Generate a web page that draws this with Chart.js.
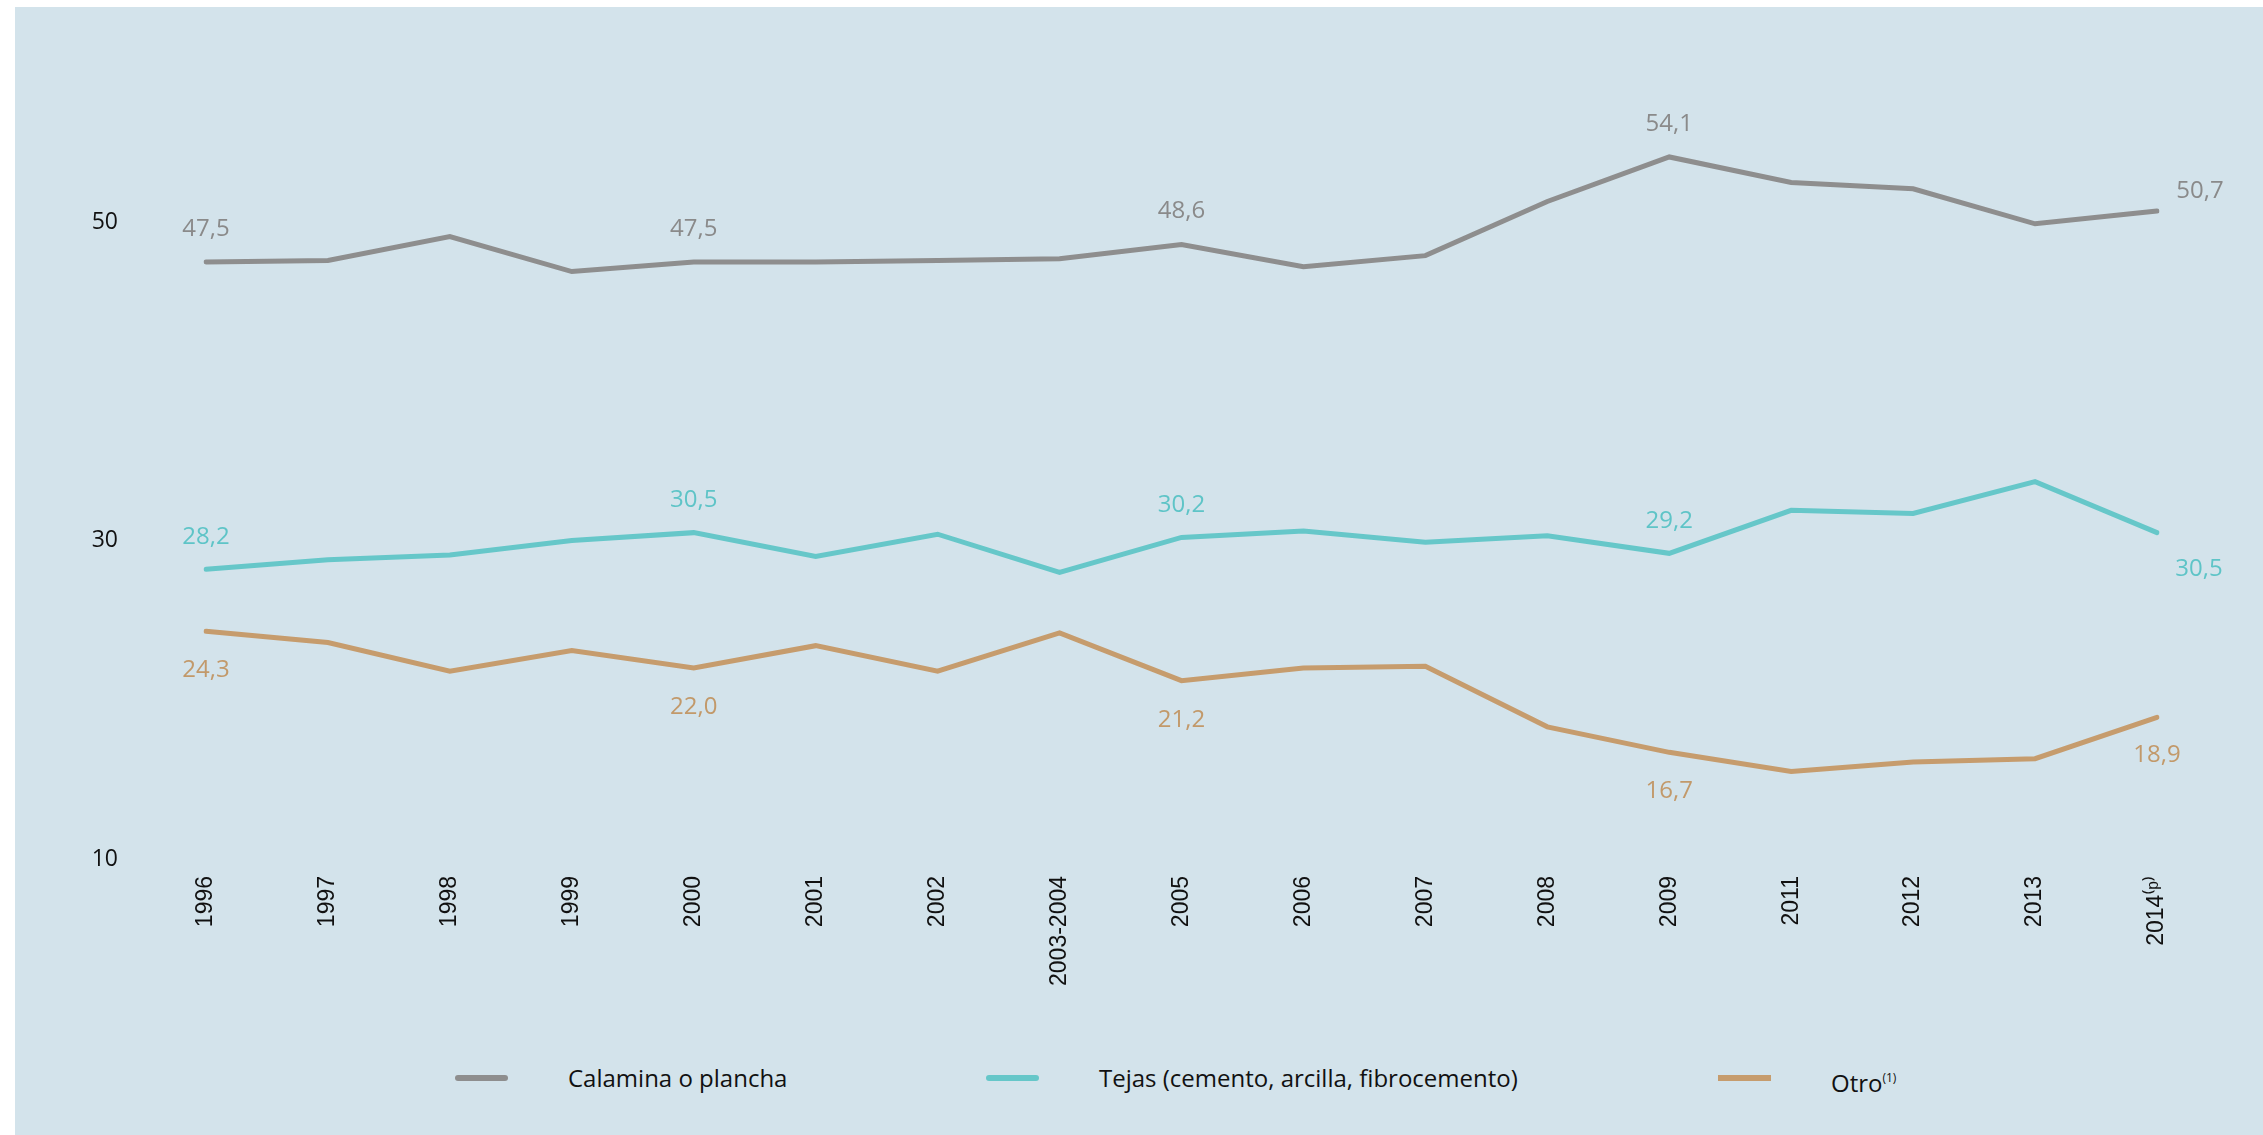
<!DOCTYPE html>
<html>
<head>
<meta charset="utf-8">
<script src="https://cdn.jsdelivr.net/npm/chart.js@4.4.1/dist/chart.umd.min.js"></script>
<style>
  body { margin: 0; width: 2263px; height: 1135px; overflow: hidden; position: relative; background: #fff; font-family: "Open Sans", sans-serif; }
  #panel { position: absolute; left: 15px; top: 7px; right: 0; bottom: 0; background: #d3e3eb; }
  #wrap { position: absolute; left: 0; top: 0; width: 2263px; height: 1010px; }
  .swatch { position: absolute; top: 1075px; width: 53px; height: 6px; border-radius: 3px; }
  .ltext { position: absolute; top: 1060px; line-height: 36px; font-size: 24px; color: #111; white-space: nowrap; }
  .ltext sup { font-size: 12px; vertical-align: 10px; }
</style>
</head>
<body>
<div id="panel"></div>
<div id="wrap"><canvas id="chart"></canvas></div>
<div id="legend"></div>
<script>
const categories = ['1996', '1997', '1998', '1999', '2000', '2001', '2002', '2003-2004', '2005', '2006',
                    '2007', '2008', '2009', '2011', '2012', '2013', '2014⁽ᵖ⁾'];
const calamina = [47.5, 47.6, 49.1, 46.9, 47.5, 47.5, 47.6, 47.7, 48.6, 47.2, 47.9, 51.3, 54.1, 52.5, 52.1, 49.9, 50.7];
const tejas    = [28.2, 28.8, 29.1, 30.0, 30.5, 29.0, 30.4, 28.0, 30.2, 30.6, 29.9, 30.3, 29.2, 31.9, 31.7, 33.7, 30.5];
const otro     = [24.3, 23.6, 21.8, 23.1, 22.0, 23.4, 21.8, 24.2, 21.2, 22.0, 22.1, 18.3, 16.7, 15.5, 16.1, 16.3, 18.9];
const yTicks = [10, 30, 50];
const labelIdx = [0, 4, 8, 12, 16];   // puntos con valor escrito

const GRAY = '#8e8e8e', TEAL = '#66c7c9', ORANGE = '#c69c6d';

// valores sobre/bajo los puntos
const valueLabels = {
  id: 'valueLabels',
  afterDatasetsDraw(chart) {
    const ctx = chart.ctx;
    chart.data.datasets.forEach((ds, i) => {
      const meta = chart.getDatasetMeta(i);
      ctx.save();
      ctx.font = '24px "Open Sans"';
      ctx.fillStyle = ds.labelColor;
      ctx.textAlign = 'center';
      ctx.textBaseline = 'middle';
      labelIdx.forEach(j => {
        const pt = meta.data[j];
        const off = j === categories.length - 1 ? ds.lastOffset : [0, ds.labelDy];
        ctx.fillText(ds.data[j].toFixed(1).replace('.', ','), pt.x + off[0], pt.y + off[1]);
      });
      ctx.restore();
    });
  }
};

const ctx = document.getElementById('chart').getContext('2d');
const chart = new Chart(ctx, {
  type: 'line',
  data: {
    labels: categories,
    datasets: [
      { label: 'Calamina o plancha', data: calamina, borderColor: GRAY, labelColor: '#8a8a8a', labelDy: -33, lastOffset: [43, -20] },
      { label: 'Tejas (cemento, arcilla, fibrocemento)', data: tejas, borderColor: TEAL, labelColor: '#5ec4c7', labelDy: -32, lastOffset: [42, 37] },
      { label: 'Otro', data: otro, borderColor: ORANGE, labelColor: '#c2996a', labelDy: 39, lastOffset: [0, 38] }
    ]
  },
  options: {
    responsive: true,
    maintainAspectRatio: false,
    animation: false,
    layout: { padding: { left: 0, right: 106, top: 63, bottom: 0 } },
    elements: {
      line: { borderWidth: 5, tension: 0, borderCapStyle: 'round', borderJoinStyle: 'miter' },
      point: { radius: 0 }
    },
    plugins: { legend: { display: false }, tooltip: { enabled: false } },
    scales: {
      x: {
        offset: false,
        grid: { display: false, drawTicks: false },
        border: { display: false },
        afterFit: s => { s.height = 151; },
        ticks: {
          autoSkip: false, minRotation: 90, maxRotation: 90, padding: 17,
          color: '#111', font: { family: '"Liberation Sans"', size: 23 }
        }
      },
      y: {
        min: 10, max: 60,
        // tickLength (sin dibujar) separa las etiquetas del área
        grid: { display: false, drawTicks: true, tickLength: 86 },
        border: { display: false },
        afterFit: s => { s.width = 206; },
        afterBuildTicks: s => { s.ticks = yTicks.map(v => ({ value: v })); },
        ticks: { padding: 2, color: '#111', font: { family: '"Open Sans"', size: 23 } }
      }
    }
  },
  plugins: [valueLabels]
});

// leyenda
const legendItems = [
  { text: 'Calamina o plancha', color: GRAY, lineX: 455, textX: 568, round: true },
  { text: 'Tejas (cemento, arcilla, fibrocemento)', color: TEAL, lineX: 986, textX: 1099, round: true },
  { text: 'Otro<sup>(1)</sup>', color: ORANGE, lineX: 1718, textX: 1831, round: false }
];
const legendDiv = document.getElementById('legend');
legendItems.forEach(it => {
  const sw = document.createElement('div');
  sw.className = 'swatch';
  sw.style.left = it.lineX + 'px';
  sw.style.background = it.color;
  if (!it.round) sw.style.borderRadius = '0';
  legendDiv.appendChild(sw);
  const t = document.createElement('div');
  t.className = 'ltext';
  t.style.left = it.textX + 'px';
  t.innerHTML = it.text;
  legendDiv.appendChild(t);
});
</script>
</body>
</html>
